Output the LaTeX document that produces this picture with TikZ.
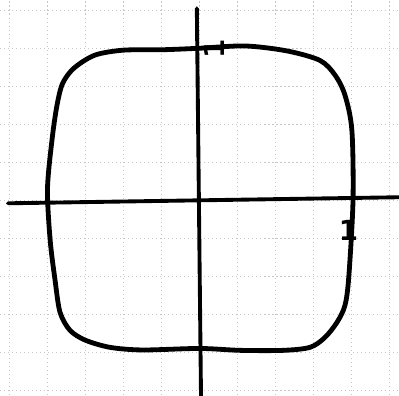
\documentclass[tikz,border=0pt]{standalone}
\usepackage{tikz}
\usepackage{fontspec}
\newfontfamily\markfont{DejaVu Sans}

\begin{document}
\begin{tikzpicture}[
    gridline/.style={draw=gray!45, line width=0.4pt, dash pattern=on 0.8pt off 2.2pt},
    axis/.style={draw=black, line width=2.9pt, line cap=round},
    curve/.style={draw=black, line width=3.6pt, line join=round},
    tick/.style={font=\markfont\bfseries\huge, inner sep=0pt}
]
    \useasboundingbox (-5.25,-5.13) rectangle (5.25,5.27);

    % Graph paper
    \draw[gridline, step=1] (-5.25,-5.13) grid (5.25,5.27);

    % Axes
    \coordinate (xleft) at (-5.04,-0.08);
    \coordinate (xright) at (5.3,0.08);
    \coordinate (ytop) at (-0.07,5.05);
    \coordinate (ybottom) at (0.04,-5.2);
    \draw[axis] (xleft) -- (xright);
    \draw[axis] (ytop) -- (ybottom);

    % Rounded square
    \draw[curve] plot[smooth cycle, tension=0.5] coordinates {
        (0,4.0) (1.2,4.06) (2.3,3.93) (3.17,3.68) (3.57,3.29)
        (3.83,2.76) (4.01,1.84) (4.04,0) (3.93,-2.0) (3.83,-2.76)
        (3.62,-3.21) (3.3,-3.61) (2.91,-3.87) (2.2,-3.95) (1.07,-3.95) (0,-3.9)
        (-1.5,-3.94) (-2.36,-3.87) (-3.01,-3.68) (-3.41,-3.42)
        (-3.67,-2.95) (-3.8,-2.11) (-3.93,-1.05) (-4.0,0.3)
        (-3.88,1.6) (-3.75,2.5) (-3.6,3.08) (-3.3,3.48)
        (-2.75,3.82) (-2.0,3.95) (-1.0,3.96)};

    % Unit marks
    \node[tick, rotate=90] (ytick) at (0.4,3.98) {1};
    \node[tick] (xtick) at (3.92,-0.8) {1};
\end{tikzpicture}
\end{document}
